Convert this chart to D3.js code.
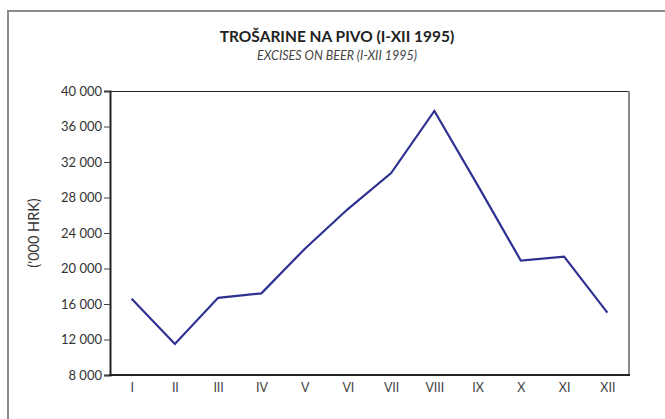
<!DOCTYPE html>
<html>
<head>
<meta charset="utf-8">
<script src="https://cdn.jsdelivr.net/npm/d3@7"></script>
<style>
  html, body { margin: 0; padding: 0; background: #fff; }
  svg { display: block; }
</style>
</head>
<body>
<svg id="chart" width="665" height="419"></svg>
<script>
const months = ["I", "II", "III", "IV", "V", "VI", "VII", "VIII", "IX", "X", "XI", "XII"];
const excises = [16600, 11500, 16700, 17200, 22200, 26700, 30750, 37750, 29400, 20880, 21330, 15020];
const yTicks = [8000, 12000, 16000, 20000, 24000, 28000, 32000, 36000, 40000];
const titleText = "TROŠARINE NA PIVO (I-XII 1995)";
const subtitleText = "EXCISES ON BEER (I-XII 1995)";
const yAxisTitle = "('000 HRK)";

const svg = d3.select("#chart");
const font = "Lato, 'Open Sans', sans-serif";

const plot = { left: 110, right: 629, top: 91, bottom: 375 };

// outer frame
svg.append("path")
  .attr("d", "M8,425 V11 H670")
  .attr("fill", "none")
  .attr("stroke", "#8a8a8a")
  .attr("stroke-width", 2);

const x = d3.scalePoint().domain(months).range([plot.left, plot.right]).padding(0.5);
const y = d3.scaleLinear().domain([8000, 40000]).range([plot.bottom, plot.top]);

// plot box
svg.append("line").attr("x1", plot.left).attr("x2", plot.right).attr("y1", plot.top + 0.5).attr("y2", plot.top + 0.5)
  .attr("stroke", "#222").attr("stroke-width", 1.2);
svg.append("line").attr("x1", plot.right).attr("x2", plot.right).attr("y1", plot.top).attr("y2", plot.bottom)
  .attr("stroke", "#8a8a8a").attr("stroke-width", 2);

// y axis
const yAxis = d3.axisLeft(y).tickValues(yTicks).tickSize(6).tickPadding(2)
  .tickFormat(d => d3.format(",")(d).replace(/,/g, " "));
const gy = svg.append("g").attr("transform", `translate(${plot.left},0)`).call(yAxis);
gy.select(".domain").attr("stroke", "#222").attr("stroke-width", 2);
gy.selectAll(".tick line").attr("stroke", "#444").attr("stroke-width", 1);
gy.selectAll(".tick text").attr("font-family", font).attr("font-size", 13).attr("fill", "#333");

// x axis
const xAxis = d3.axisBottom(x).tickSize(0).tickPadding(8);
const gx = svg.append("g").attr("transform", `translate(0,${plot.bottom})`).call(xAxis);
gx.select(".domain").attr("d", `M${plot.left - 1},0H${plot.right + 1}`).attr("stroke", "#222").attr("stroke-width", 2);
gx.selectAll(".tick text").attr("font-family", font).attr("font-size", 12.5).attr("fill", "#444");

// line
const line = d3.line().x((d, i) => x(months[i])).y(d => y(d));
svg.append("path").datum(excises)
  .attr("d", line)
  .attr("fill", "none")
  .attr("stroke", "#2e3192")
  .attr("stroke-width", 2.2)
  .attr("stroke-linejoin", "miter");

// titles
svg.append("text").attr("x", 337).attr("y", 42).attr("text-anchor", "middle")
  .attr("font-family", font).attr("font-weight", "bold").attr("font-size", 15.5).attr("fill", "#222")
  .text(titleText);
svg.append("text").attr("x", 337).attr("y", 60).attr("text-anchor", "middle")
  .attr("font-family", font).attr("font-style", "italic").attr("font-size", 12.5).attr("fill", "#444")
  .text(subtitleText);

svg.append("text")
  .attr("transform", `translate(39,${(plot.top + plot.bottom) / 2}) rotate(-90)`)
  .attr("text-anchor", "middle")
  .attr("font-family", font).attr("font-size", 14.5).attr("fill", "#333")
  .text(yAxisTitle);
</script>
</body>
</html>
